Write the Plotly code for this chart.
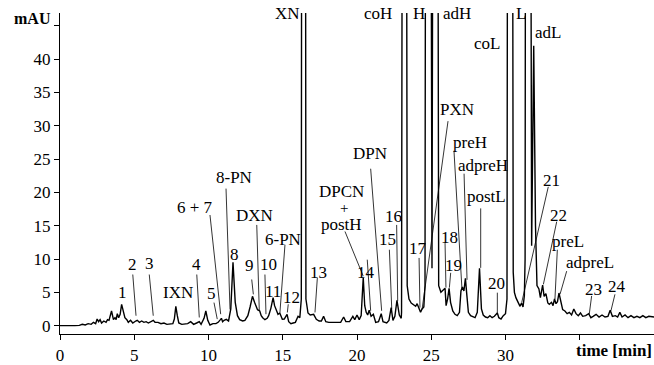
import plotly.graph_objects as go

# ---- chromatogram trace (time [min], absorbance [mAU]) ----
time_min = [0.0, 0.5, 1.0, 1.3, 1.5, 1.7, 1.9, 2.1, 2.25, 2.4, 2.5, 2.6, 2.7, 2.8, 2.95, 3.1, 3.2, 3.3,
            3.47, 3.6, 3.7, 3.78, 3.86, 3.95, 4.05, 4.15, 4.25, 4.37, 4.5, 4.6, 4.75, 4.9, 5.1, 5.2,
            5.35, 5.5, 5.65, 5.8, 5.95, 6.1, 6.28, 6.4, 6.6, 6.8, 7.0, 7.2, 7.4, 7.6, 7.7, 7.8, 7.9,
            8.0, 8.2, 8.4, 8.6, 8.8, 9.0, 9.2, 9.38, 9.5, 9.6, 9.7, 9.82, 9.95, 10.1, 10.3, 10.5,
            10.65, 10.8, 10.87, 10.95, 11.05, 11.2, 11.35, 11.5, 11.65, 11.8, 11.95, 12.1, 12.3,
            12.45, 12.65, 12.8, 12.96, 13.1, 13.2, 13.3, 13.45, 13.55, 13.65, 13.8, 13.95, 14.05,
            14.2, 14.35, 14.45, 14.55, 14.68, 14.8, 14.97, 15.1, 15.29, 15.4, 15.55, 15.7, 15.85,
            16.03, 16.15, 16.25, 16.3, 16.5, 16.56, 16.7, 16.85, 17.08, 17.26, 17.45, 17.6, 17.75,
            17.9, 18.1, 18.4, 18.7, 18.9, 19.1, 19.25, 19.5, 19.72, 19.85, 20.0, 20.15, 20.28,
            20.42, 20.52, 20.62, 20.72, 20.82, 20.95, 21.1, 21.26, 21.45, 21.63, 21.75, 22.0,
            22.15, 22.3, 22.42, 22.55, 22.69, 22.85, 22.98, 23.0, 23.1, 23.28, 23.38, 23.5, 23.65,
            23.8, 23.95, 24.05, 24.15, 24.28, 24.38, 24.5, 24.58, 24.66, 24.9, 25.05, 25.18, 25.38,
            25.5, 25.65, 25.8, 25.93, 26.0, 26.1, 26.2, 26.3, 26.45, 26.6, 26.75, 26.9, 27.0, 27.1,
            27.2, 27.3, 27.4, 27.5, 27.65, 27.8, 27.95, 28.1, 28.25, 28.38, 28.5, 28.65, 28.8,
            28.95, 29.1, 29.25, 29.45, 29.55, 29.7, 29.85, 30.0, 30.1, 30.18, 30.42, 30.52, 30.6,
            30.7, 30.85, 30.98, 31.08, 31.18, 31.27, 31.32, 31.38, 31.62, 31.76, 31.9, 32.02,
            32.12, 32.25, 32.35, 32.5, 32.6, 32.72, 32.85, 32.95, 33.1, 33.2, 33.3, 33.4, 33.5,
            33.6, 33.72, 33.85, 34.0, 34.15, 34.3, 34.45, 34.6, 34.75, 34.9, 35.05, 35.2, 35.4,
            35.6, 35.75, 35.9, 36.1, 36.3, 36.5, 36.7, 36.9, 37.05, 37.2, 37.4, 37.55, 37.7, 37.85,
            38.05, 38.25, 38.45, 38.65, 38.85, 39.05, 39.25, 39.45, 39.65, 39.85, 40.0]
absorbance = [0.0, -0.05, 0.0, 0.05, 0.2, 0.1, 0.3, 0.2, 0.5, 0.3, 1.0, 0.6, 0.9, 0.4, 0.7, 0.5, 0.9, 0.8,
              2.2, 0.9, 1.2, 0.9, 1.8, 1.2, 1.7, 3.2, 2.2, 1.2, 0.9, 0.5, 0.8, 0.4, 0.7, 0.8,
              0.5, 0.7, 0.5, 0.6, 0.4, 0.6, 0.8, 0.5, 0.5, 0.3, 0.4, 0.2, 0.3, 0.3, 1.0, 2.9, 1.5,
              0.4, 0.2, 0.2, 0.3, 0.6, 0.2, 0.4, 0.6, 0.2, 0.6, 1.1, 2.2, 0.8, 0.1, 0.3, 0.3,
              0.5, 0.9, 1.1, 0.6, 0.8, 0.95, 0.7, 2.5, 9.5, 3.5, 1.5, 0.9, 0.7,
              0.8, 1.5, 2.8, 4.4, 3.5, 2.9, 2.4, 2.2, 1.5, 1.2, 0.9, 1.1, 1.5,
              2.6, 4.2, 3.0, 2.4, 1.7, 1.9, 0.95, 1.0, 1.7, 0.6, 0.3, 0.4, 0.5,
              1.4, 1.2, 4.0, 150, 150, 4.0, 1.9, 1.6, 1.7, 0.95, 0.7, 0.7, 1.4,
              0.6, 0.5, 0.5, 0.6, 0.5, 1.3, 0.6, 0.6, 1.4, 0.9, 1.6, 0.9, 1.5,
              7.2, 3.0, 2.0, 1.6, 2.3, 1.4, 1.7, 0.5, 0.6, 1.8, 0.6, 0.4,
              0.8, 2.7, 0.8, 1.4, 3.8, 1.6, 1.1, 2.0, 150, 150, 6.0, 4.0, 3.4,
              3.2, 2.9, 3.3, 2.8, 2.0, 2.5, 2.8, 6.0, 150, 150, 8.6, 150, 150,
              6.0, 5.0, 5.4, 5.6, 3.0, 4.0, 5.6, 3.5, 2.2, 1.7, 1.5, 2.0, 5.2, 5.8,
              5.2, 7.1, 4.5, 2.0, 1.5, 1.4, 1.2, 2.0, 8.6, 2.5, 1.6, 1.3, 1.2,
              1.5, 1.2, 1.4, 1.9, 1.2, 1.0, 1.5, 1.8, 4.0, 150, 150, 8.0, 5.0,
              4.2, 3.5, 2.9, 3.4, 2.8, 4.5, 10.0, 150, 150, 12.0, 42.0, 15.0,
              6.0, 5.5, 4.2, 6.1, 4.4, 4.8, 3.4, 3.2, 3.5, 3.0, 4.0, 3.3, 3.6,
              4.9, 3.5, 2.4, 2.2, 1.8, 2.0, 1.6, 2.5, 1.8, 1.5, 1.9, 1.4, 1.5,
              1.8, 1.2, 1.4, 1.7, 1.3, 1.6, 1.3, 1.4, 2.3, 1.4, 1.5, 1.3, 2.0, 1.3,
              1.6, 1.2, 1.5, 1.2, 1.4, 1.2, 1.5, 1.2, 1.4, 1.3, 1.3]

# ---- tick labels ----
x_tickvals = [0, 5, 10, 15, 20, 25, 30, 35]
x_ticktext = ["0", "5", "10", "15", "20", "25", "30", ""]
y_tickvals = [0, 5, 10, 15, 20, 25, 30, 35, 40, 45]
y_ticktext = ["0", "5", "10", "15", "20", "25", "30", "35", "40", ""]

# ---- peak labels inside the plot (text, time, mAU) ----
peak_labels = ["1", "2", "3", "IXN", "4", "5", "6 + 7", "8-PN", "8", "9", "DXN", "10", "11", "6-PN",
               "12", "13", "DPCN", "postH", "14", "DPN", "15", "16", "17", "PXN", "preH",
               "adpreH", "postL", "18", "19", "20", "21", "22", "preL", "adpreL", "23", "24",
               "coL", "adL"]
label_t = [4.18, 4.85, 6.01, 7.93, 9.16, 10.20, 9.09, 11.72, 11.78, 12.79, 13.13, 14.03, 14.36, 15.04,
           15.60, 17.39, 18.97, 18.97, 20.59, 20.88, 22.07, 22.44, 24.13, 26.73, 27.61,
           28.51, 28.73, 26.26, 26.48, 29.41, 33.11, 33.56, 34.23, 35.69, 35.91, 37.49,
           28.75, 32.86]
label_v = [4.95, 9.12, 9.26, 4.95, 9.12, 4.80, 17.74, 22.2, 10.65, 8.97, 16.6, 9.16, 5.20, 12.88,
           4.21, 7.93, 20.1, 15.2, 7.93, 25.77, 12.88, 16.36, 11.64, 32.46, 27.51,
           24.03, 19.33, 13.23, 9.07, 6.29, 21.80, 16.59, 12.64, 9.41, 5.44, 5.95,
           42.3, 44.0]
# "+" between DPCN and postH
plus_label = ["+"]
plus_t = [19.12]
plus_v = [17.65]

# ---- labels of the off-scale peaks along the top edge ----
top_labels = ["XN", "coH", "H", "adH", "L"]
top_t = [15.35, 21.41, 24.18, 26.71, 31.04]

# ---- leader lines (from label to peak) ----
lead_t0 = [4.90, 6.01, 9.21, 10.37, 10.10, 11.18, 12.91, 13.25, 13.80, 15.15, 15.37, 17.33, 19.19,
           20.69, 20.92, 22.18, 22.67, 24.18, 26.13, 26.53, 27.21, 25.93, 26.31, 28.33, 29.45,
           32.88, 33.45, 33.49, 34.12, 35.80, 37.37]
lead_v0 = [7.67, 7.67, 7.67, 3.46, 16.6, 20.56, 6.93, 15.11, 7.67, 12.13, 3.21, 7.18, 14.13,
           9.90, 23.54, 11.39, 15.11, 10.16, 30.68, 26.24, 22.80, 12.39, 7.93, 17.59, 4.95,
           20.82, 15.61, 11.39, 8.18, 4.46, 4.70]
lead_t1 = [5.12, 6.28, 9.38, 10.59, 10.82, 11.45, 13.02, 13.42, 13.87, 14.81, 15.31, 17.17, 20.42,
           20.92, 21.66, 22.34, 22.74, 24.24, 24.38, 27.07, 27.41, 25.99, 26.22, 28.33, 29.45,
           31.09, 32.55, 33.33, 33.67, 35.64, 37.10]
lead_v1 = [1.49, 1.49, 1.23, 0.98, 1.72, 2.43, 4.70, 2.23, 1.72, 1.98, 1.98, 1.98, 7.43,
           2.23, 2.23, 2.47, 3.72, 2.72, 2.42, 5.40, 6.88, 5.70, 5.70, 8.67, 1.72,
           3.46, 6.19, 3.96, 4.70, 1.72, 2.23]

FONT = "Liberation Serif, Times New Roman, serif"

fig = go.Figure()
fig.add_trace(go.Scatter(x=time_min, y=absorbance, mode="lines",
                         line=dict(color="black", width=1.4), hoverinfo="skip",
                         showlegend=False))

shapes = []
for a, b, c, d in zip(lead_t0, lead_v0, lead_t1, lead_v1):
    shapes.append(dict(type="line", xref="x", yref="y", x0=a, y0=b, x1=c, y1=d,
                       line=dict(color="black", width=0.8)))

annotations = []
for txt, t, v in zip(peak_labels, label_t, label_v):
    annotations.append(dict(x=t, y=v, xref="x", yref="y", text=txt, showarrow=False,
                            xanchor="center", yanchor="middle",
                            font=dict(family=FONT, size=17, color="black")))
for txt, t, v in zip(plus_label, plus_t, plus_v):
    annotations.append(dict(x=t, y=v, xref="x", yref="y", text=txt, showarrow=False,
                            xanchor="center", yanchor="middle",
                            font=dict(family=FONT, size=15, color="black")))
for txt, t in zip(top_labels, top_t):
    annotations.append(dict(x=t, y=1.0, xref="x", yref="paper", text=txt, showarrow=False,
                            xanchor="center", yanchor="middle",
                            font=dict(family=FONT, size=17, color="black")))
annotations.append(dict(x=-0.046, y=0.982, xref="paper", yref="paper", text="<b>mAU</b>",
                        showarrow=False, xanchor="center", yanchor="middle",
                        font=dict(family=FONT, size=16, color="black")))
annotations.append(dict(x=0.932, y=-0.052, xref="paper", yref="paper", text="<b>time [min]</b>",
                        showarrow=False, xanchor="center", yanchor="middle",
                        font=dict(family=FONT, size=17, color="black")))

fig.update_layout(
    width=654, height=365,
    margin=dict(l=60, r=0, t=13, b=28),
    paper_bgcolor="white", plot_bgcolor="white",
    shapes=shapes, annotations=annotations,
    font=dict(family=FONT, size=17, color="black"),
    xaxis=dict(range=[0, 40], tickvals=x_tickvals, ticktext=x_ticktext, ticks="outside",
               ticklen=5, tickcolor="black", showline=True, linecolor="black", linewidth=1.2,
               showgrid=False, zeroline=False,
               tickfont=dict(family=FONT, size=17, color="black")),
    yaxis=dict(range=[-1.25, 46.9], tickvals=y_tickvals, ticktext=y_ticktext, ticks="outside",
               ticklen=5, tickcolor="black", showline=True, linecolor="black", linewidth=1.2,
               showgrid=False, zeroline=False,
               tickfont=dict(family=FONT, size=17, color="black")),
)

fig.write_html("out.html")
